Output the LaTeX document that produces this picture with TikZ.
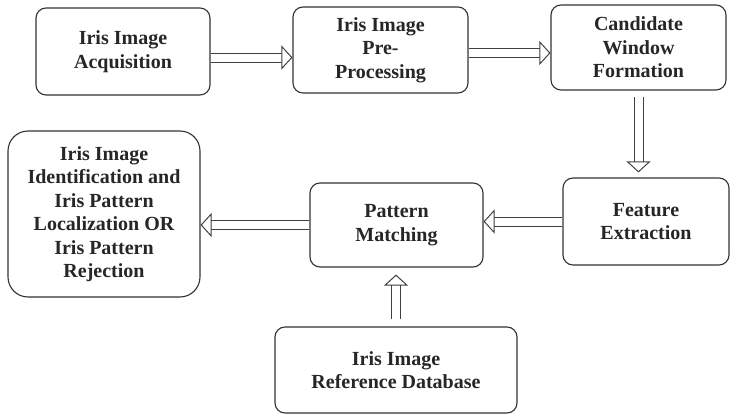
\documentclass[tikz,border=0pt]{standalone}
\usepackage{fontspec}
\setmainfont{Liberation Serif}
\usetikzlibrary{arrows.meta,positioning}

\begin{document}
\begin{tikzpicture}[x=1pt,y=-1pt,
  block/.style={
    draw=black!80, line width=1.1pt, rounded corners=10pt, fill=white,
    align=center, inner sep=0pt, text=black!85,
    font=\fontsize{20}{23.5}\selectfont\bfseries
  },
  hollow/.style={-{Triangle[open,length=11pt,width=24pt]},
    line width=1pt, draw=black!75, double=white, double distance=8pt},
]
\useasboundingbox (0,0) rectangle (732,415);

\node[block, minimum width=174pt, minimum height=87pt] (acq)   at (123,51.5)  {Iris Image\\Acquisition};
\node[block, minimum width=175pt, minimum height=86pt] (pre)   at (380.5,50)  {Iris Image\\Pre-\\Processing};
\node[block, minimum width=175pt, minimum height=85pt] (cand)  at (638.5,47.5) {Candidate\\Window\\Formation};
\node[block, minimum width=166pt, minimum height=87pt] (feat)  at (646,221.5) {Feature\\Extraction};
\node[block, minimum width=173pt, minimum height=84pt] (match) at (396.5,225) {Pattern\\Matching};
\node[block, minimum width=192pt, minimum height=166pt, rounded corners=20pt] (ident) at (104,214)
  {Iris Image\\Identification and\\Iris Pattern\\Localization OR\\Iris Pattern\\Rejection};
\node[block, minimum width=242pt, minimum height=86pt] (refdb) at (396,370) {Iris Image\\Reference Database};

\draw[hollow] ([yshift=-6pt]acq.east) -- ([yshift=-6pt]acq.east -| pre.west);
\draw[hollow] ([yshift=-3pt]pre.east) -- ([yshift=-3pt]pre.east -| cand.west);
\draw[hollow, shorten <=6pt, shorten >=5pt] (cand.south) -- (cand.south |- feat.north);
\draw[hollow] (feat.west) -- (feat.west -| match.east);
\draw[hollow] (match.west) -- (match.west -| ident.east);
\draw[hollow, shorten <=7pt, shorten >=7pt] (refdb.north) -- (refdb.north |- match.south);

\end{tikzpicture}
\end{document}
